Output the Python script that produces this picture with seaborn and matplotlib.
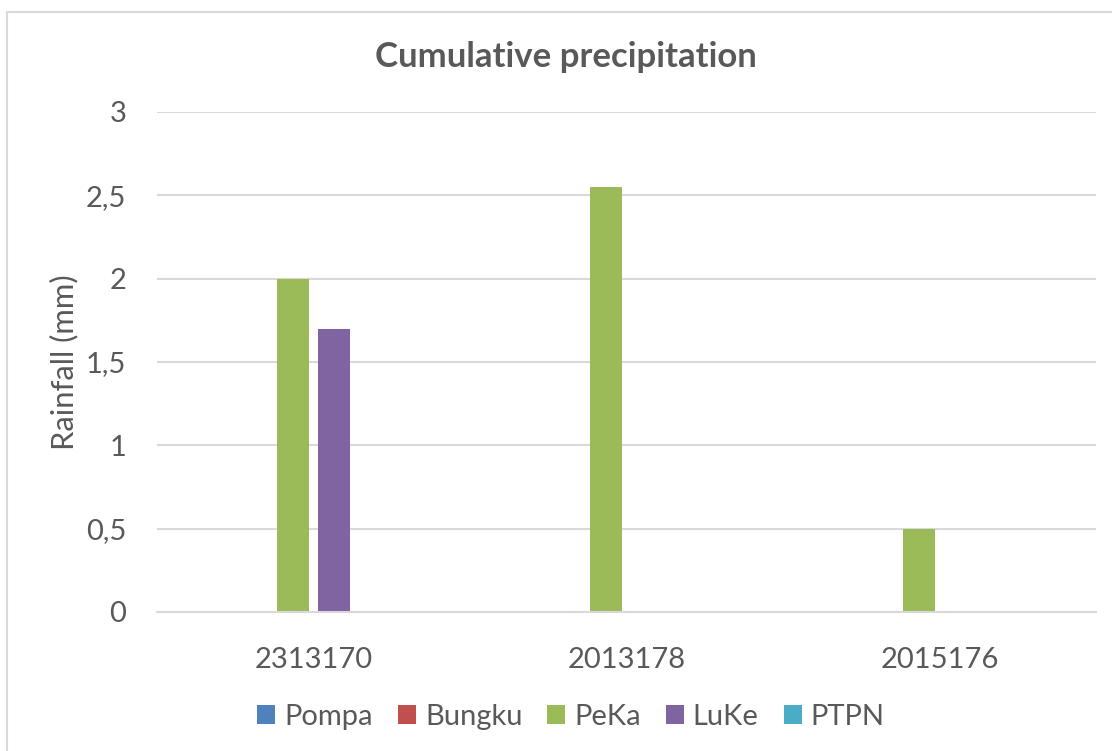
import matplotlib.pyplot as plt
import matplotlib.ticker as mticker
from matplotlib.patches import Patch, Rectangle
import pandas as pd
import seaborn as sns

sns.set_theme(style="white")
plt.rcParams["font.family"] = ["Lato", "DejaVu Sans"]

stations = ["2313170", "2013178", "2015176"]
series = ["Pompa", "Bungku", "PeKa", "LuKe", "PTPN", "Series6"]
pompa = [0, 0, 0]
bungku = [0, 0, 0]
peka = [2.0, 2.55, 0.5]
luke = [1.7, 0, 0]
ptpn = [0, 0, 0]
series6 = [0, 0, 0]
colors = ["#4F81BD", "#C0504D", "#9BBB59", "#8064A2", "#4BACC6", "#F79646"]

rows = []
for name, vals in zip(series, [pompa, bungku, peka, luke, ptpn, series6]):
    for st, v in zip(stations, vals):
        rows.append({"station": st, "series": name, "rain": v})
df = pd.DataFrame(rows)
palette = dict(zip(series, colors))

text_col = "#595959"
fig = plt.figure(figsize=(11.12, 7.51), dpi=100)
ax = fig.add_axes([157 / 1112, (751 - 612) / 751, 939 / 1112, 500 / 751])

sns.barplot(data=df, x="station", y="rain", hue="series", hue_order=series,
            order=stations, palette=palette, saturation=1, width=0.79, gap=0.21,
            legend=False, linewidth=0, ax=ax)

ax.set_ylim(0, 3)
ax.set_xlim(-0.5, 2.5)
ax.set_yticks([0, 0.5, 1, 1.5, 2, 2.5, 3])
ax.yaxis.set_major_formatter(mticker.FuncFormatter(lambda v, p: f"{v:g}".replace(".", ",")))
ax.grid(axis="y", color="#D9D9D9", linewidth=1.5)
ax.set_axisbelow(True)
for s in ["top", "right", "left"]:
    ax.spines[s].set_visible(False)
ax.spines["bottom"].set_color("#D9D9D9")
ax.spines["bottom"].set_linewidth(1.5)
ax.tick_params(axis="both", length=0, labelsize=21, labelcolor=text_col)
ax.tick_params(axis="y", pad=22)
ax.tick_params(axis="x", pad=25)
ax.set_xlabel("")
ax.set_ylabel("Rainfall (mm)", fontsize=22.3, color=text_col)
ax.yaxis.set_label_coords(-0.084, 0.5)

fig.text(566 / 1112, 1 - 57 / 751, "Cumulative precipitation", ha="center", va="center",
         fontsize=25, fontweight="bold", color=text_col)

handles = [Patch(facecolor=palette[s], edgecolor="none") for s in series[:5]]
fig.legend(handles, series[:5], loc="center", bbox_to_anchor=(571 / 1112, 1 - 717 / 751),
           ncol=5, frameon=False, fontsize=21, labelcolor=text_col, handlelength=0.62,
           handleheight=0.62, handletextpad=0.31, columnspacing=0.85)

fig.patches.append(Rectangle((7 / 1112, -0.01), 1.02, 1 - 12 / 751 + 0.01,
                             transform=fig.transFigure, fill=False,
                             edgecolor="#D9D9D9", linewidth=1.5))

fig.savefig("out.png", dpi=100)
